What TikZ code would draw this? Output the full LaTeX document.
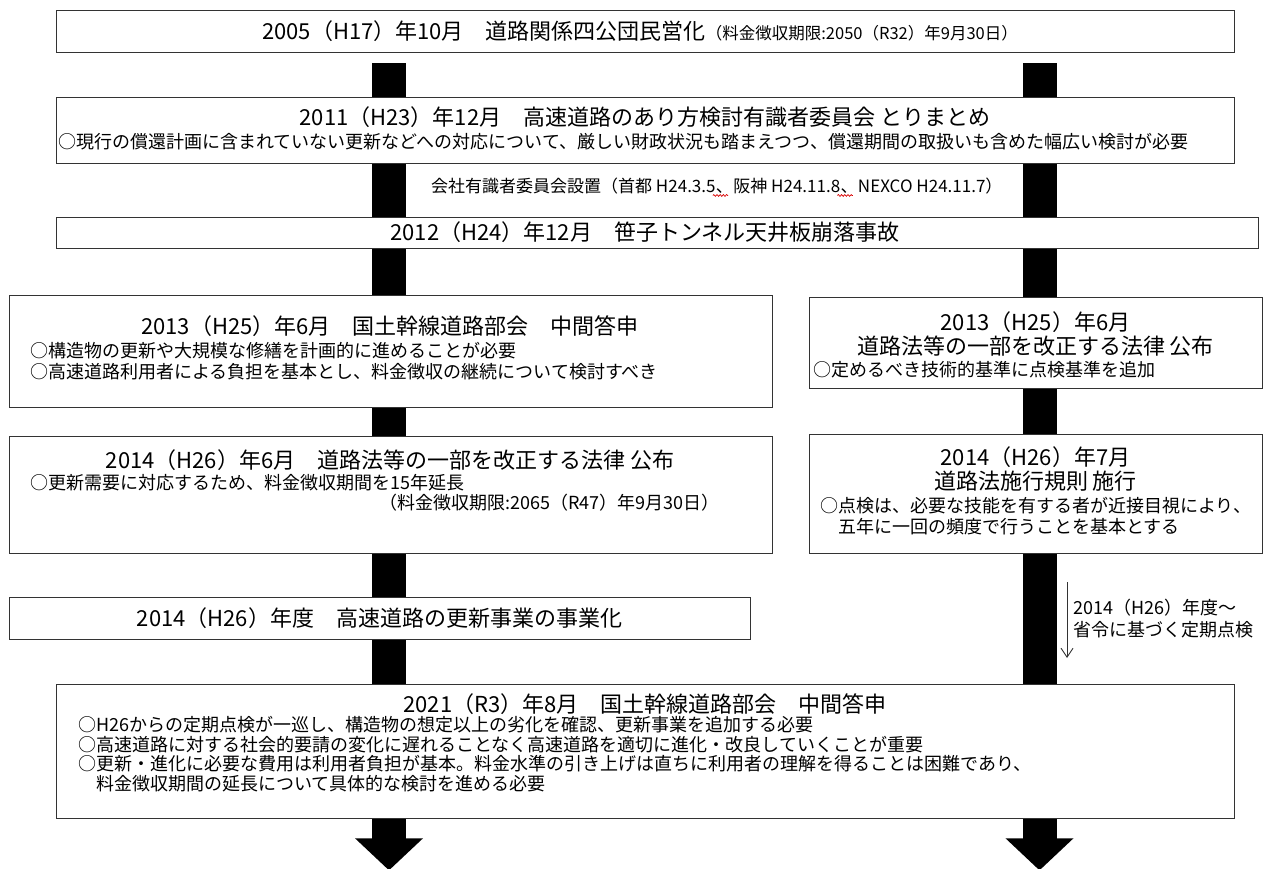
\documentclass[tikz,border=0pt]{standalone}
\usepackage{fontspec}
\setmainfont{Noto Sans CJK JP}
\usetikzlibrary{arrows.meta,calc,decorations.pathmorphing}
\pgfdeclarelayer{bg}
\pgfsetlayers{bg,main}
\begin{document}
\begin{tikzpicture}[x=1pt,y=-1pt,
  box/.style={draw=black!80, line width=1.3pt, fill=white, inner sep=0pt, anchor=north west},
  ttl/.style={font=\fontsize{22}{26}\selectfont, inner sep=0pt, anchor=center},
  bod/.style={font=\fontsize{18}{22}\selectfont, inner sep=0pt, anchor=west},
  bodn/.style={font=\fontsize{17}{21}\selectfont, inner sep=0pt},
  bar/.style={line width=34pt, draw=black, line cap=butt},
  squig/.style={draw=red!85!black, line width=0.7pt, decorate, decoration={snake, amplitude=0.9pt, segment length=3.2pt}},
  thinarrow/.style={line width=0.9pt, draw=black!80, -{Straight Barb[length=9pt,width=12pt]}}]
\useasboundingbox (0,0) rectangle (1266,869);
\coordinate (L) at (389,0);
\coordinate (R) at (1039.5,0);

% boxes
\node[box, minimum width=1178pt, minimum height=42pt] (b1) at (56,10) {};
\node[box, minimum width=1178pt, minimum height=66pt] (b2) at (56,97) {};
\node[box, minimum width=1202pt, minimum height=31pt] (b3) at (56,217) {};
\node[box, minimum width=763pt, minimum height=112pt] (b4l) at (9,295) {};
\node[box, minimum width=453pt, minimum height=91pt] (b4r) at (809,297) {};
\node[box, minimum width=763pt, minimum height=117pt] (b5l) at (9,436) {};
\node[box, minimum width=453pt, minimum height=119pt] (b5r) at (809,434) {};
\node[box, minimum width=741pt, minimum height=42pt] (b6) at (9,597) {};
\node[box, minimum width=1178pt, minimum height=134pt] (b7) at (56,684) {};

% bars (connectors)
\begin{pgfonlayer}{bg}
\draw[bar] ([yshift=-10pt]b1.south -| L) -- (b2.north -| L);
\draw[bar] (b2.south -| L) -- (b3.north -| L);
\draw[bar] (b3.south -| L) -- (b4l.north -| L);
\draw[bar] (b4l.south -| L) -- (b5l.north -| L);
\draw[bar] (b5l.south -| L) -- (b6.north -| L);
\draw[bar] (b6.south -| L) -- (b7.north -| L);
\draw[bar] ([yshift=-10pt]b1.south -| R) -- (b2.north -| R);
\draw[bar] (b2.south -| R) -- (b3.north -| R);
\draw[bar] (b3.south -| R) -- (b4r.north -| R);
\draw[bar] (b4r.south -| R) -- (b5r.north -| R);
\draw[bar] (b5r.south -| R) -- (b7.north -| R);
\end{pgfonlayer}

% bottom arrows
\coordinate (tl) at ($(b7.south -| L)+(0,51)$);
\coordinate (tr) at ($(b7.south -| R)+(0,51)$);
\draw[bar] (b7.south -| L) -- ++(0,21);
\draw[bar] (b7.south -| R) -- ++(0,21);
\fill ($(b7.south -| L)+(-34,19)$) -- ($(b7.south -| L)+(34,19)$) -- (tl) -- cycle;
\fill ($(b7.south -| R)+(-34,19)$) -- ($(b7.south -| R)+(34,19)$) -- (tr) -- cycle;

% texts
\node[inner sep=0pt] (t1) at (640,31) {\fontsize{22}{26}\selectfont 2005（H17）年10月　道路関係四公団民営化\fontsize{16.5}{20}\selectfont （料金徴収期限:2050（R32）年9月30日）};

\node[ttl] (t2) at (645,117) {2011（H23）年12月　高速道路のあり方検討有識者委員会 とりまとめ};
\node[bod] (t2a) at (58,142) {○現行の償還計画に含まれていない更新などへの対応について、厳しい財政状況も踏まえつつ、償還期間の取扱いも含めた幅広い検討が必要};

\node[bodn, anchor=west] (n1) at (431,186) {会社有識者委員会設置（首都 H24.3.5};
\node[bodn, anchor=base west] (c1) at (n1.base east) {、};
\node[bodn, anchor=base west] (n2) at (c1.base east) {阪神 H24.11.8};
\node[bodn, anchor=base west] (c2) at (n2.base east) {、};
\node[bodn, anchor=base west] (n3) at (c2.base east) {NEXCO H24.11.7）};
\draw[squig] ([xshift=-3pt,yshift=-3pt]c1.base west) -- ([xshift=-5pt,yshift=-3pt]c1.base east);
\draw[squig] ([xshift=-3pt,yshift=-3pt]c2.base west) -- ([xshift=-5pt,yshift=-3pt]c2.base east);

\node[ttl] (t3) at (645,232) {2012（H24）年12月　笹子トンネル天井板崩落事故};

\node[ttl] (t4l) at (390,326) {2013（H25）年6月　国土幹線道路部会　中間答申};
\node[bod] (t4la) at (30,351) {○構造物の更新や大規模な修繕を計画的に進めることが必要};
\node[bod] (t4lb) at (30,372) {○高速道路利用者による負担を基本とし、料金徴収の継続について検討すべき};

\node[ttl] (t4r) at (1035.5,322) {2013（H25）年6月};
\node[ttl] (t4r2) at (1035.5,346) {道路法等の一部を改正する法律 公布};
\node[bod] (t4ra) at (813,370) {○定めるべき技術的基準に点検基準を追加};

\node[ttl] (t5l) at (390,460) {2014（H26）年6月　道路法等の一部を改正する法律 公布};
\node[bod] (t5la) at (30,483) {○更新需要に対応するため、料金徴収期間を15年延長};
\node[bod, anchor=east] (t5lb) at (720,503) {（料金徴収期限:2065（R47）年9月30日）};

\node[ttl] (t5r) at (1035.5,457) {2014（H26）年7月};
\node[ttl] (t5r2) at (1035.5,481) {道路法施行規則 施行};
\node[bod] (t5ra) at (820,506) {○点検は、必要な技能を有する者が近接目視により、};
\node[bod] (t5rb) at (820,527) {　五年に一回の頻度で行うことを基本とする};

\node[ttl] (t6) at (379.5,618) {2014（H26）年度　高速道路の更新事業の事業化};

\coordinate (sa1) at (1067,582);
\coordinate (sa2) at (1067,658);
\draw[thinarrow] (sa1) -- (sa2);
\node[bod] (sat1) at (1073,608) {2014（H26）年度〜};
\node[bod] (sat2) at (1073,630) {省令に基づく定期点検};

\node[ttl] (t7) at (645,704) {2021（R3）年8月　国土幹線道路部会　中間答申};
\node[bod] (t7a) at (78,725) {○H26からの定期点検が一巡し、構造物の想定以上の劣化を確認、更新事業を追加する必要};
\node[bod] (t7b) at (78,745) {○高速道路に対する社会的要請の変化に遅れることなく高速道路を適切に進化・改良していくことが重要};
\node[bod] (t7c) at (78,764) {○更新・進化に必要な費用は利用者負担が基本。料金水準の引き上げは直ちに利用者の理解を得ることは困難であり、};
\node[bod] (t7d) at (78,784) {　料金徴収期間の延長について具体的な検討を進める必要};
\end{tikzpicture}
\end{document}
